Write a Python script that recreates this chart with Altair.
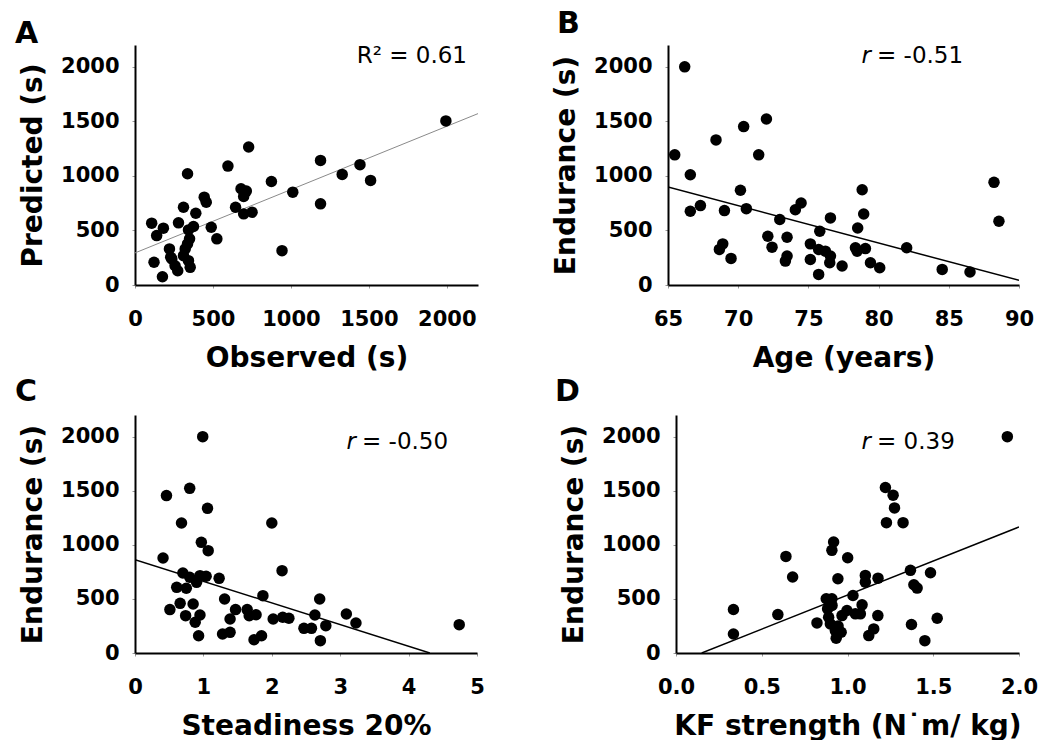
import altair as alt
import pandas as pd

FONT = "DejaVu Sans"

# ---------------- data ----------------
A_observed = [107, 139, 182, 122, 176, 221, 229, 257, 274, 279, 311, 311, 322, 337, 343,
              354, 350, 343, 375, 390, 444, 457, 489, 525, 596, 645, 680, 697, 697, 714,
              729, 751, 875, 943, 1012, 1190, 1190, 1329, 1443, 1511, 1994, 236, 337]
A_predicted = [567, 453, 521, 208, 76, 331, 254, 177, 131, 570, 713, 269, 331, 1020, 223,
               162, 423, 505, 536, 658, 805, 759, 529, 423, 1090, 713, 882, 812, 652, 861,
               1265, 667, 949, 315, 851, 1142, 744, 1014, 1103, 959, 1504, 239, 377]

B_age = [65.48, 66.19, 66.59, 66.59, 67.31, 68.42, 68.66, 68.90, 69.02, 69.49,
         70.16, 70.39, 70.58, 71.46, 72.01, 72.11, 72.41, 72.96, 73.36, 73.48,
         73.48, 74.07, 74.48, 75.14, 75.14, 75.73, 75.81, 75.73, 76.21, 76.57,
         76.52, 76.57, 77.40, 78.51, 78.35, 78.47, 78.83, 78.94, 79.06, 79.42,
         80.08, 82.0, 84.53, 86.51, 88.22, 88.57]
B_endurance = [1193, 2000, 1011, 676, 728, 1330, 326, 377, 682, 244,
               868, 1452, 700, 1193, 1522, 447, 347, 600, 219, 265,
               438, 690, 752, 234, 377, 97, 493, 325, 310, 265,
               204, 615, 174, 523, 341, 310, 873, 651, 334, 204,
               158, 341, 143, 119, 941, 584]

C_steadiness = [0.41, 0.46, 0.51, 0.61, 0.66, 0.68, 0.70, 0.74, 0.75, 0.80,
                0.80, 0.85, 0.88, 0.90, 0.93, 0.95, 0.95, 0.99, 0.97, 1.04,
                1.06, 1.07, 1.23, 1.28, 1.31, 1.39, 1.39, 1.47, 1.64, 1.67,
                1.77, 1.74, 1.85, 1.87, 2.00, 2.02, 2.15, 2.16, 2.25, 2.47,
                2.58, 2.63, 2.70, 2.71, 2.79, 3.09, 3.23, 4.74]
C_endurance = [878, 1455, 401, 607, 459, 1202, 740, 345, 598, 1522,
               700, 453, 284, 653, 160, 351, 715, 2000, 1023, 709,
               1337, 946, 690, 176, 499, 191, 314, 401, 401, 345,
               354, 123, 160, 530, 1202, 314, 761, 330, 321, 228,
               228, 351, 499, 114, 253, 361, 277, 262]

D_kf = [0.335, 0.335, 0.594, 0.641, 0.680, 0.822, 0.876, 0.884, 0.890, 0.900,
        0.909, 0.919, 0.909, 0.929, 0.934, 0.944, 0.963, 0.968, 0.997, 1.001,
        1.032, 1.046, 1.075, 1.085, 1.104, 1.104, 1.124, 1.153, 1.177, 1.178,
        1.221, 1.227, 1.266, 1.274, 1.324, 1.367, 1.373, 1.387, 1.406, 1.451,
        1.484, 1.523, 1.932, 0.910, 0.945]
D_endurance = [402, 176, 355, 893, 702, 278, 501, 408, 331, 269,
               949, 1026, 501, 207, 136, 686, 192, 346, 393, 881,
               532, 362, 362, 445, 717, 655, 161, 223, 346, 692,
               1530, 1205, 1459, 1341, 1205, 764, 263, 631, 600, 114,
               742, 321, 2000, 440, 250]

# regression line end points (as drawn)
fitA_x, fitA_y = [0, 2200], [294, 1571]
fitB_x, fitB_y = [65, 90], [898, 43]
fitC_x, fitC_y = [0, 4.31], [863, 0]
fitD_x, fitD_y = [0.15, 2.0], [0, 1165]

y_ticks = [0, 500, 1000, 1500, 2000]
A_ticks = [0, 500, 1000, 1500, 2000]
B_ticks = [65, 70, 75, 80, 85, 90]
C_ticks = [0, 1, 2, 3, 4, 5]
D_ticks = [0.0, 0.5, 1.0, 1.5, 2.0]

panel_letters = ["A", "B", "C", "D"]
ann_italic = ["", "r", "r", "r"]
ann_rest = ["R\u00b2 = 0.61", "= -0.51", "= -0.50", "= 0.39"]


def panel(xs, ys, fx, fy, xdom, xticks, xfmt, xtitle, ytitle, letter, letter_pos,
          ann_i, ann_r, ann_pos, ann_align, line_color, line_w, w, h):
    pts = pd.DataFrame({"x": xs, "y": ys})
    fit = pd.DataFrame({"x": fx, "y": fy})
    xscale = alt.Scale(domain=xdom, nice=False, zero=False)
    yscale = alt.Scale(domain=[0, 2200], nice=False, zero=True)
    xenc = alt.X("x:Q", scale=xscale,
                 axis=alt.Axis(values=xticks, format=xfmt, title=xtitle))
    yenc = alt.Y("y:Q", scale=yscale,
                 axis=alt.Axis(values=y_ticks, format="d", title=ytitle))
    line = alt.Chart(fit).mark_line(color=line_color, strokeWidth=line_w, clip=True).encode(
        x=xenc, y=yenc)
    dots = alt.Chart(pts).mark_circle(size=132, color="black", opacity=1).encode(
        x=xenc, y=yenc)
    lt = alt.Chart(pd.DataFrame({"t": [letter]})).mark_text(
        font=FONT, fontWeight="bold", fontSize=30, align="left",
        baseline="alphabetic", color="black").encode(
        x=alt.value(letter_pos[0]), y=alt.value(letter_pos[1]), text="t:N")
    layers = [line, dots, lt]
    rest = alt.Chart(pd.DataFrame({"t": [ann_r]})).mark_text(
        font=FONT, fontSize=23, align=ann_align, baseline="alphabetic",
        color="black").encode(x=alt.value(ann_pos[0]), y=alt.value(ann_pos[1]), text="t:N")
    layers.append(rest)
    if ann_i:
        it = alt.Chart(pd.DataFrame({"t": [ann_i]})).mark_text(
            font=FONT, fontSize=23, fontStyle="italic", align="right",
            baseline="alphabetic", color="black").encode(
            x=alt.value(ann_pos[0] - 6), y=alt.value(ann_pos[1]), text="t:N")
        layers.append(it)
    return alt.layer(*layers).properties(width=w, height=h)


pA = panel(A_observed, A_predicted, fitA_x, fitA_y, [0, 2200], A_ticks, "d",
           "Observed (s)", "Predicted (s)", panel_letters[0], (-120, -2),
           ann_italic[0], ann_rest[0], (332, 18), "right", "#8a8a8a", 1, 343, 240)
pB = panel(B_age, B_endurance, fitB_x, fitB_y, [65, 90], B_ticks, "d",
           "Age (years)", "Endurance (s)", panel_letters[1], (-111, -12),
           ann_italic[1], ann_rest[1], (209, 18), "left", "black", 1.5, 351, 240)
pC = panel(C_steadiness, C_endurance, fitC_x, fitC_y, [0, 5], C_ticks, "d",
           "Steadiness 20%", "Endurance (s)", panel_letters[2], (-120, -14),
           ann_italic[2], ann_rest[2], (227, 34), "left", "black", 1.5, 342, 238)
pD = panel(D_kf, D_endurance, fitD_x, fitD_y, [0, 2], D_ticks, ".1f",
           "KF strength (N\u02d9m/ kg)", "Endurance (s)", panel_letters[3], (-121, -14),
           ann_italic[3], ann_rest[3], (201, 34), "left", "black", 1.5, 343, 238)

row1 = alt.hconcat(pA, pB, spacing=190, bounds="flush")
row2 = alt.hconcat(pC, pD, spacing=199, bounds="flush")

chart = alt.vconcat(row1, row2, spacing=5).properties(
    padding={"left": 15, "top": 9, "right": 0, "bottom": 0}
).configure_view(strokeWidth=0).configure_axis(
    domainColor="black", domainWidth=2, tickColor="#999999", tickSize=3, tickWidth=1,
    grid=False, labelFont=FONT, labelFontWeight="bold", labelFontSize=21,
    labelColor="black", titleFont=FONT, titleFontWeight="bold", titleFontSize=28,
    titleColor="black", labelFlush=False
).configure_axisX(labelPadding=20, titlePadding=15).configure_axisY(
    labelPadding=13, titlePadding=13)

chart.save("out.html", embed_options={"renderer": "svg", "actions": False})
